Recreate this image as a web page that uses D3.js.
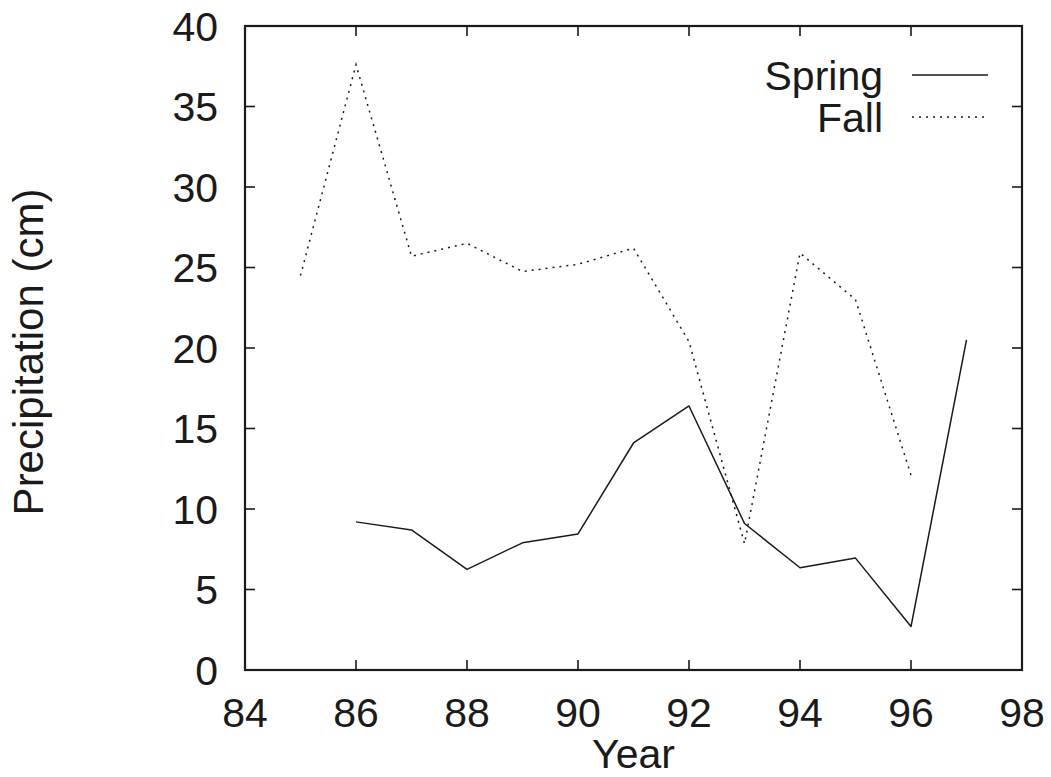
<!DOCTYPE html>
<html><head><meta charset="utf-8">
<script src="https://cdn.jsdelivr.net/npm/d3@7"></script>
<style>body{margin:0;background:#fff;} svg{display:block;}</style>
</head><body>
<svg id="c" width="1051" height="777"></svg>
<script>
const springYears = [86,87,88,89,90,91,92,93,94,95,96,97];
const springValues = [9.2,8.7,6.25,7.9,8.45,14.1,16.4,9.1,6.35,6.95,2.7,20.5];
const fallYears = [85,86,87,88,89,90,91,92,93,94,95,96];
const fallValues = [24.5,37.6,25.7,26.5,24.75,25.2,26.2,20.4,7.85,25.9,23.0,12.1];
const xTicks = [84,86,88,90,92,94,96,98];
const yTicks = [0,5,10,15,20,25,30,35,40];
const seriesNames = ["Spring","Fall"];

const svg = d3.select("#c");
const L=245, R=1022, T=26, B=670;
const x = d3.scaleLinear().domain([84,98]).range([L,R]);
const y = d3.scaleLinear().domain([0,40]).range([B,T]);
const font = "'Liberation Sans', Arial, Helvetica, sans-serif";
const fs = 41;

const tk = 10;
const g = svg.append("g").attr("stroke","#1a1a1a").attr("stroke-width",1.6);
xTicks.forEach(v=>{
  g.append("line").attr("x1",x(v)).attr("x2",x(v)).attr("y1",B).attr("y2",B-tk);
  g.append("line").attr("x1",x(v)).attr("x2",x(v)).attr("y1",T).attr("y2",T+tk);
});
yTicks.forEach(v=>{
  g.append("line").attr("x1",L).attr("x2",L+tk).attr("y1",y(v)).attr("y2",y(v));
  g.append("line").attr("x1",R).attr("x2",R-tk).attr("y1",y(v)).attr("y2",y(v));
});
svg.append("rect").attr("x",L).attr("y",T).attr("width",R-L).attr("height",B-T)
  .attr("fill","none").attr("stroke","#1a1a1a").attr("stroke-width",2.2);

svg.append("g").selectAll("text").data(xTicks).join("text")
  .attr("x",d=>x(d)).attr("y",B+57).attr("text-anchor","middle")
  .attr("font-family",font).attr("font-size",fs).attr("fill","#1a1a1a").text(d=>d);
svg.append("g").selectAll("text").data(yTicks).join("text")
  .attr("x",L-27).attr("y",d=>y(d)).attr("dy","0.36em").attr("text-anchor","end")
  .attr("font-family",font).attr("font-size",fs).attr("fill","#1a1a1a").text(d=>d);

svg.append("text").attr("x",(L+R)/2).attr("y",768).attr("text-anchor","middle")
  .attr("font-family",font).attr("font-size",fs).attr("fill","#1a1a1a").text("Year");
svg.append("text").attr("transform",`translate(43,${(T+B)/2+4}) rotate(-90)`)
  .attr("text-anchor","middle").attr("font-family",font).attr("font-size",42)
  .attr("fill","#1a1a1a").text("Precipitation (cm)");

const line = d3.line().x(d=>x(d[0])).y(d=>y(d[1]));
const springData = springYears.map((yr,i)=>[yr,springValues[i]]);
const fallData = fallYears.map((yr,i)=>[yr,fallValues[i]]);
svg.append("path").attr("d",line(springData)).attr("fill","none")
  .attr("stroke","#1a1a1a").attr("stroke-width",1.5).attr("stroke-linejoin","round");
svg.append("path").attr("d",line(fallData)).attr("fill","none")
  .attr("stroke","#1a1a1a").attr("stroke-width",1.5).attr("stroke-dasharray","2,5");

const lg = svg.append("g");
const styles = [{dash:null},{dash:"2,5"}];
seriesNames.forEach((n,i)=>{
  const by = 90 + i*42;
  lg.append("text").attr("x",883).attr("y",by).attr("text-anchor","end")
    .attr("font-family",font).attr("font-size",fs).attr("fill","#1a1a1a").text(n);
  const ln = lg.append("line").attr("x1",912).attr("x2",988).attr("y1",by-15).attr("y2",by-15)
    .attr("stroke","#1a1a1a").attr("stroke-width",1.5);
  if(styles[i].dash) ln.attr("stroke-dasharray",styles[i].dash);
});
</script>
</body></html>
